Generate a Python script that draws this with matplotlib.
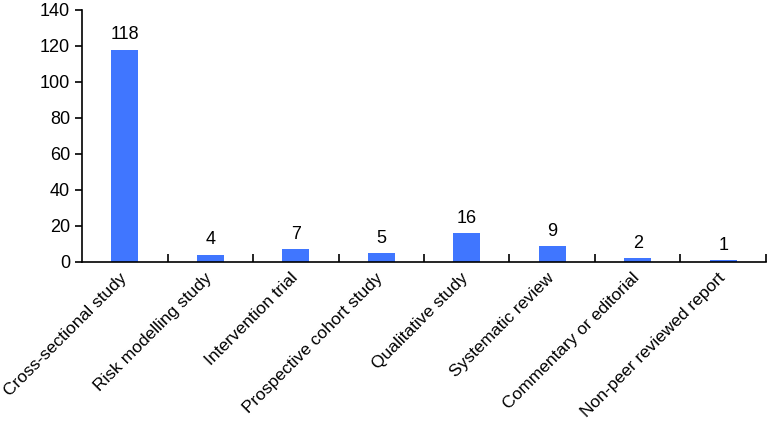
import matplotlib.pyplot as plt
import matplotlib.transforms as mtransforms
import numpy as np

plt.rcParams['font.family'] = ['Liberation Sans', 'DejaVu Sans']

categories = ['Cross-sectional study', 'Risk modelling study', 'Intervention trial',
              'Prospective cohort study', 'Qualitative study', 'Systematic review',
              'Commentary or editorial', 'Non-peer reviewed report']
counts = [118, 4, 7, 5, 16, 9, 2, 1]

fig = plt.figure(figsize=(7.67, 4.22), dpi=100)
ax = fig.add_axes([82/767, 1-262/422, (766-82)/767, (262-10)/422])

x = np.arange(len(categories))
ax.bar(x, counts, width=0.31, color='#4076FF')
for xi, c in zip(x, counts):
    ax.text(xi, c + 3.5, str(c), ha='center', va='bottom', fontsize=13)

ax.set_xlim(-0.5, len(categories) - 0.5)
ax.set_ylim(0, 140)
ax.set_yticks(np.arange(0, 141, 20))
ax.tick_params(axis='y', labelsize=13, direction='out', length=5, width=1.2)

ax.set_xticks(x)
ax.set_xticklabels(categories, rotation=45, ha='right', rotation_mode='anchor', fontsize=12.5)
ax.tick_params(axis='x', which='major', length=0, pad=6)
ax.set_xticks(np.arange(0.5, len(categories), 1.0), minor=True)
ax.tick_params(axis='x', which='minor', direction='in', length=6, width=1.2)

# nudge rotated labels a bit to the left
shift = mtransforms.ScaledTranslation(-0.06, 0, fig.dpi_scale_trans)
for lbl in ax.get_xticklabels():
    lbl.set_transform(lbl.get_transform() + shift)

for s in ['top', 'right']:
    ax.spines[s].set_visible(False)
ax.spines['left'].set_linewidth(1.2)
ax.spines['bottom'].set_linewidth(1.2)

fig.savefig('out.png', dpi=100)
